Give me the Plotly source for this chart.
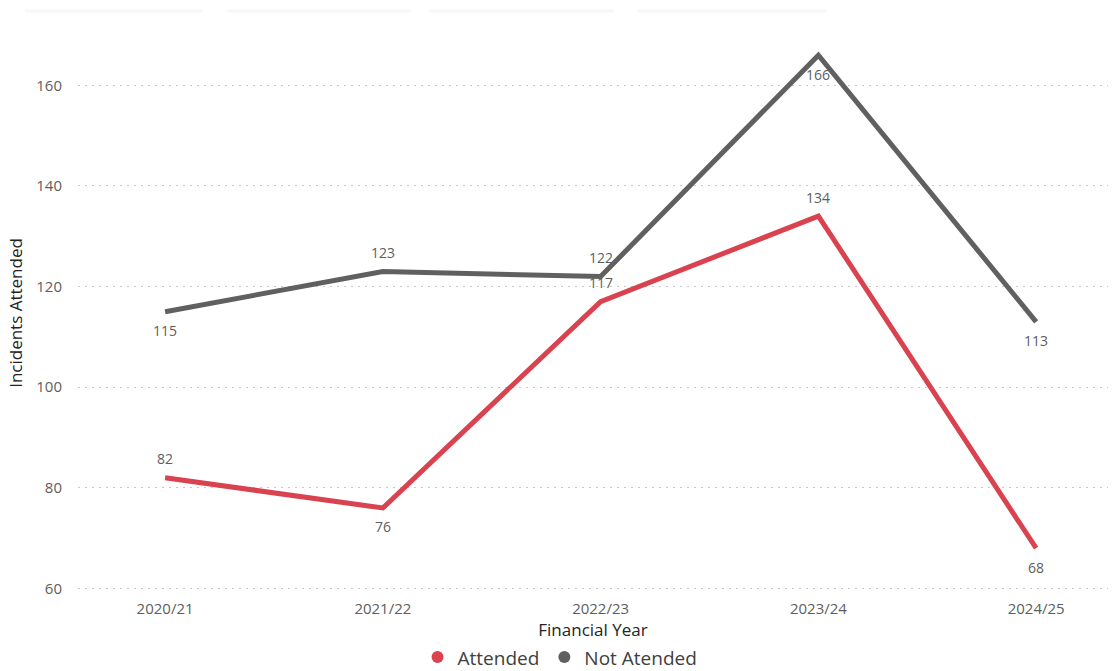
import plotly.graph_objects as go

years = ["2020/21", "2021/22", "2022/23", "2023/24", "2024/25"]
attended = [82, 76, 117, 134, 68]
not_attended = [115, 123, 122, 166, 113]
y_ticks = [60, 80, 100, 120, 140, 160]

# label placement per point: +1 above, -1 below
attended_pos = [1, -1, 1, 1, -1]
not_attended_pos = [-1, 1, 1, -1, -1]

red = "#D9424F"
gray = "#606060"
label_color = "#605E5C"

fig = go.Figure()
fig.add_trace(go.Scatter(
    x=years, y=not_attended, name="Not Atended", mode="lines",
    line=dict(color=gray, width=5), showlegend=False, hoverinfo="x+y",
))
fig.add_trace(go.Scatter(
    x=years, y=attended, name="Attended", mode="lines",
    line=dict(color=red, width=5), showlegend=False, hoverinfo="x+y",
))
# legend entries with circle markers
fig.add_trace(go.Scatter(x=[None], y=[None], mode="markers", name="Attended",
                         marker=dict(color=red, size=15, symbol="circle")))
fig.add_trace(go.Scatter(x=[None], y=[None], mode="markers", name="Not Atended",
                         marker=dict(color=gray, size=15, symbol="circle")))

for series, pos in ((attended, attended_pos), (not_attended, not_attended_pos)):
    for yr, v, p in zip(years, series, pos):
        fig.add_annotation(x=yr, y=v, text=str(v), showarrow=False,
                           yshift=19 * p, font=dict(size=14, color=label_color,
                                                     family="Open Sans"))

# faint slicer-button shadows along the top of the page
for x0, x1 in ((25, 202), (227, 411), (429, 614), (638, 826)):
    fig.add_shape(type="line", xref="paper", yref="paper",
                  x0=(x0 - 78) / 1030, x1=(x1 - 78) / 1030,
                  y0=(671 - 80 - 11) / 556, y1=(671 - 80 - 11) / 556,
                  line=dict(color="#F7F7F7", width=3))

fig.update_layout(
    width=1113, height=671,
    margin=dict(l=78, r=5, t=35, b=80, autoexpand=False),
    plot_bgcolor="white", paper_bgcolor="white",
    font=dict(family="Open Sans", color=label_color, size=15),
    legend=dict(orientation="h", x=0.468, xanchor="center", y=-0.085, yanchor="top",
                font=dict(size=19, color="#404040"), itemsizing="constant",
                itemwidth=30, tracegroupgap=0),
    showlegend=True,
    xaxis=dict(
        type="category", range=[-0.4, 4.33], showgrid=False, showline=False,
        zeroline=False, ticks="outside", ticklen=4, tickcolor="rgba(0,0,0,0)",
        tickfont=dict(size=15, color=label_color), automargin=False,
        title=dict(text="Financial Year", font=dict(size=17, color="#252423"), standoff=1),
    ),
    yaxis=dict(
        range=[59.5, 170], tickvals=y_ticks, showgrid=True,
        gridcolor="#C8C8C8", griddash="1.5px,5.5px", gridwidth=1.3, zeroline=False,
        showline=False, ticks="outside", ticklen=12, tickcolor="rgba(0,0,0,0)",
        tickfont=dict(size=15, color=label_color), automargin=False,
        title=dict(text="Incidents Attended", font=dict(size=17, color="#252423"), standoff=9),
    ),
)

fig.write_html("out.html", config={"displayModeBar": False},
               post_script="document.body.style.margin='0';")
